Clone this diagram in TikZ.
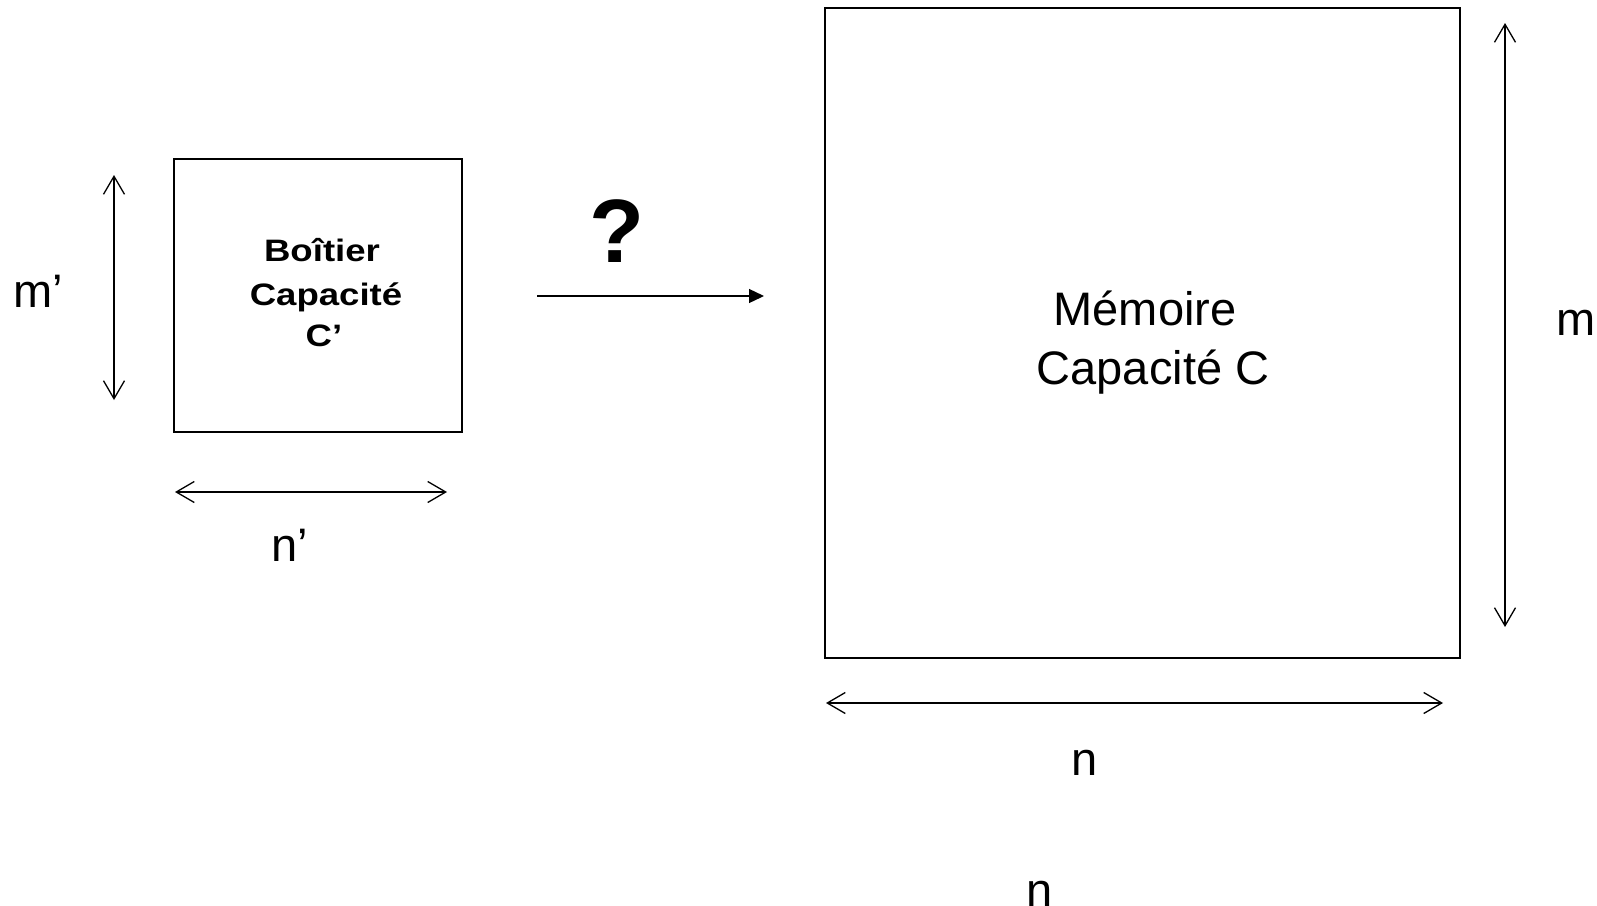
\documentclass[tikz,border=0pt]{standalone}
\usepackage{fontspec}
\setmainfont{Liberation Sans}
\newfontfamily\widebf{Liberation Sans Bold}[FakeStretch=1.18]
\usetikzlibrary{arrows.meta}

\begin{document}
\begin{tikzpicture}[x=1pt, y=-1pt,
  box/.style={draw, line width=1.9pt, inner sep=0pt},
  dimline/.style={line width=1.3pt, {Straight Barb[length=18pt,width=21pt,line width=1.3pt]}-{Straight Barb[length=18pt,width=21pt,line width=1.3pt]}},
  maparrow/.style={line width=1.3pt, -{Triangle[length=15pt,width=14pt]}},
  lbl/.style={anchor=base, inner sep=0pt, font=\fontsize{47}{47}\selectfont},
  boldlbl/.style={anchor=base, inner sep=0pt, font=\widebf\fontsize{31}{31}\selectfont},
  qmark/.style={anchor=base, inner sep=0pt, font=\bfseries\fontsize{90}{90}\selectfont}]

  \useasboundingbox (0,0) rectangle (1597,905);

  % small chip
  \node (chip) [box, minimum width=288pt, minimum height=273pt] at (318,295.5) {};
  \node (chipA) [boldlbl] at (322,261.7) {Boîtier};
  \node (chipB) [boldlbl] at (326,305.5) {Capacité};
  \node (chipC) [boldlbl] at (324,346) {C’};

  % chip dimensions
  \coordinate (mpTop) at (114,175);
  \coordinate (mpBot) at (114,400);
  \draw[dimline] (mpTop) -- (mpBot);
  \node (mpLabel) [lbl] at (38,307) {m’};

  \coordinate (npL) at (175,492);
  \coordinate (npR) at (447,492);
  \draw[dimline] (npL) -- (npR);
  \node (npLabel) [lbl] at (289.5,561) {n’};

  % question arrow
  \node (ask) [qmark] at (617,262) {?};
  \coordinate (askL) at (537,296);
  \coordinate (askR) at (764,296);
  \draw[maparrow] (askL) -- (askR);

  % memory block
  \node (mem) [box, minimum width=635pt, minimum height=650pt] at (1142.5,333) {};
  \node (memA) [lbl] at (1145,325) {Mémoire};
  \node (memB) [lbl] at (1153,384) {Capacité C};

  % memory dimensions
  \coordinate (mTop) at (1505,23);
  \coordinate (mBot) at (1505,627);
  \draw[dimline] (mTop) -- (mBot);
  \node (mLabel) [lbl] at (1576,335) {m};

  \coordinate (nL) at (826,703);
  \coordinate (nR) at (1443,703);
  \draw[dimline] (nL) -- (nR);
  \node (nLabel) [lbl] at (1085,775) {n};
  \node (nLabelB) [lbl] at (1040,906) {n};
\end{tikzpicture}
\end{document}
